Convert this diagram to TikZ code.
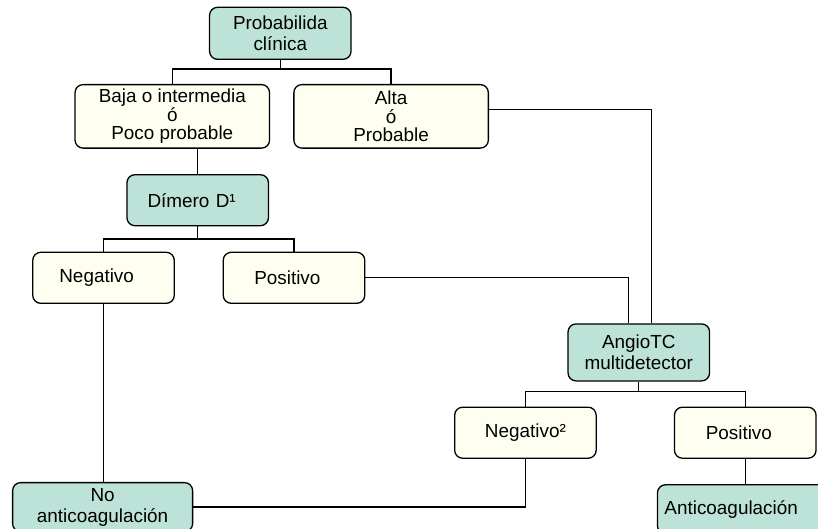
\documentclass[tikz,border=0pt]{standalone}
\usepackage{fontspec}
\setmainfont{Liberation Sans}
\usepackage{xcolor}
\definecolor{mint}{RGB}{189,227,216}
\definecolor{cream}{RGB}{255,255,241}
\usepackage{tikz}
\usetikzlibrary{positioning}

\begin{document}
\begin{tikzpicture}[
			boxStyle/.style={draw=black, line width=1.3pt, rounded corners=8pt, align=center, inner sep=0pt},
			decision/.style={boxStyle, fill=mint, font=\fontsize{18.9}{21.3}\selectfont},
			answer/.style={boxStyle, fill=cream, font=\fontsize{18.9}{18.5}\selectfont},
			small/.style={minimum width=141.5pt, minimum height=51pt},
			wide/.style={minimum width=194.5pt, minimum height=63.5pt},
			padLeft/.style 2 args={inner xsep=#1, text width=#2, align=left},
			lineStyle/.style={draw=black, line width=1.3pt}]
			
			\useasboundingbox (0,0) rectangle (818pt,-528pt);
			\clip (0,0) rectangle (818pt,-528pt);
			
			\node[decision, small, minimum height=52pt] (prob) at (280.3pt,-33.3pt) {Probabilida\\clínica};
			
			\begin{scope}[every node/.style={answer}]
				\node[wide, below=24pt of prob, xshift=-108pt] (baja) {Baja o intermedia\\ó\\Poco probable};
				\node[wide, right=23pt of baja] (alta) {Alta\\ó\\Probable};
			\end{scope}
			
			\node[decision, small, padLeft={20.6pt}{100.3pt}, below=25.3pt of baja, xshift=25.4pt] (dimero) {Dímero D¹};
			
			\begin{scope}[every node/.style={answer, small}]
				\node[padLeft={26.6pt}{88.3pt}, below=25.3pt of dimero, xshift=-94.2pt] (neg1) {Negativo};
				\node[padLeft={31pt}{79.5pt}, right=47.7pt of neg1] (pos1) {Positivo};
			\end{scope}
			
			\node[decision, small, minimum height=57pt, below=19.3pt of pos1, xshift=344.8pt] (angio) {AngioTC\\multidetector};
			
			\begin{scope}[every node/.style={answer, small}]
				\node[below=25pt of angio, xshift=-113.4pt] (neg2) {Negativo²};
				\node[padLeft={31.3pt}{79pt}, right=77pt of neg2] (pos2) {Positivo};
			\end{scope}
			
			\node[decision, minimum width=180pt, minimum height=49pt, below=178pt of neg1, xshift=-0.9pt] (noanti) {No\\anticoagulación};
			\node[decision, minimum height=49pt, padLeft={7pt}{166pt},
				below=25.3pt of pos2.south west, anchor=north west, xshift=-17pt] (anti) {Anticoagulación};
			
			% tree branches
			\draw[lineStyle] (prob.south) -- ++(0,-9pt) coordinate (j1);
			\draw[lineStyle] (baja.north) |- (j1) -| (alta.north);
			\draw[lineStyle] (baja.south -| dimero.north) -- (dimero.north);
			\draw[lineStyle] (dimero.south) -- ++(0,-12.7pt) coordinate (j2);
			\draw[lineStyle] (neg1.north) |- (j2) -| (pos1.north);
			\draw[lineStyle] (angio.south) -- ++(0,-10pt) coordinate (j3);
			\draw[lineStyle] (neg2.north) |- (j3) -| (pos2.north);
			
			% paths to the results
			\draw[lineStyle] (pos1.east) -| ([xshift=-10pt]angio.north);
			\draw[lineStyle] ([yshift=6.7pt]alta.east) -| ([xshift=13pt]angio.north);
			\draw[lineStyle] (neg1.south) -- (neg1.south |- noanti.north);
			\draw[lineStyle] (neg2.south) |- (noanti.east);
			\draw[lineStyle] (pos2.south) -- (pos2.south |- anti.north);
		\end{tikzpicture}
\end{document}
